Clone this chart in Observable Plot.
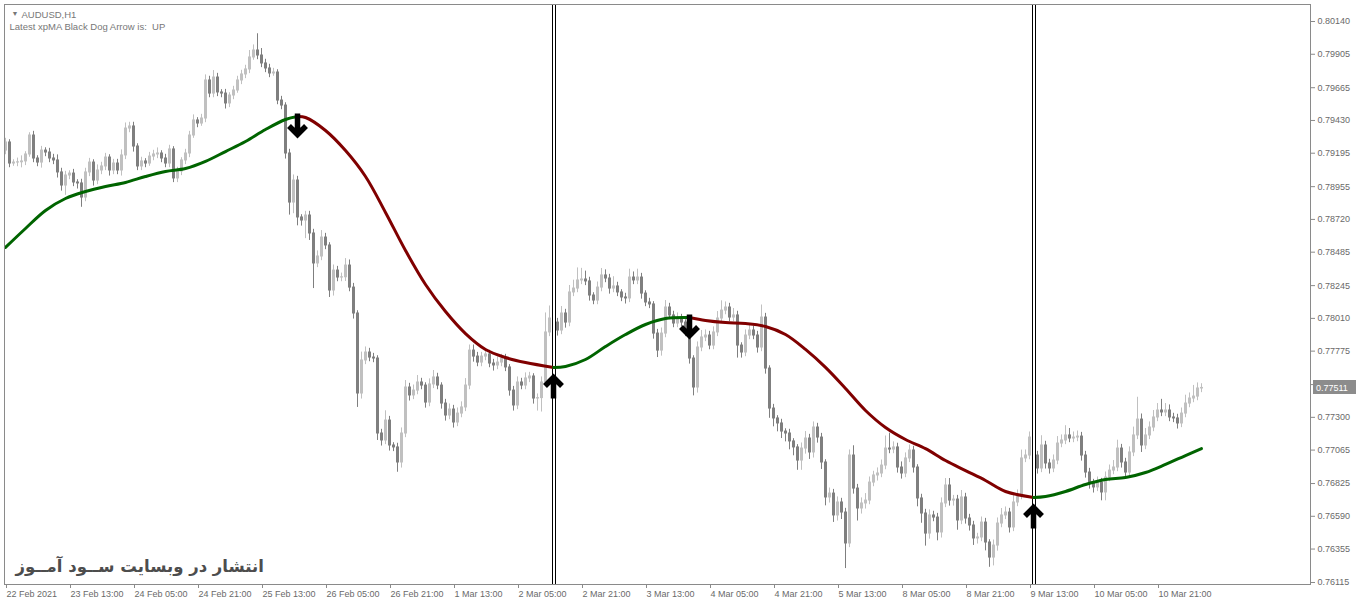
<!DOCTYPE html>
<html><head><meta charset="utf-8">
<script src="https://cdn.jsdelivr.net/npm/d3@7"></script>
<script src="https://cdn.jsdelivr.net/npm/@observablehq/plot@0.6"></script>
<style>
html,body{margin:0;padding:0;background:#fff;}
#chart{width:1360px;height:604px;overflow:hidden;}
</style></head><body><div id="chart"></div>
<script>
// ---------- DATA (AUDUSD H1) ----------
const firstOpen = 0.79214;
const closes = [
0.79272,0.79121,0.79128,0.79130,0.79136,0.79186,0.79322,0.79157,0.79128,0.79214,
0.79200,0.79157,0.79143,0.79057,0.78963,0.79035,0.79049,0.78985,0.78978,0.78877,
0.79057,0.79128,0.78999,0.79071,0.79100,0.79164,0.79071,0.79121,0.79071,0.79179,
0.79372,0.79387,0.79243,0.79100,0.79136,0.79121,0.79171,0.79186,0.79193,0.79157,
0.79121,0.79222,0.79014,0.79064,0.79143,0.79193,0.79322,0.79430,0.79408,0.79444,
0.79717,0.79623,0.79738,0.79631,0.79623,0.79552,0.79609,0.79645,0.79717,0.79760,
0.79796,0.79882,0.79932,0.79896,0.79839,0.79803,0.79767,0.79774,0.79573,0.79537,
0.79193,0.78841,0.78999,0.78734,0.78712,0.78748,0.78619,0.78404,0.78454,0.78590,
0.78533,0.78210,0.78353,0.78303,0.78305,0.78389,0.78231,0.78045,0.77471,0.77708,
0.77765,0.77729,0.77722,0.77184,0.77134,0.77277,0.77098,0.77084,0.76976,0.77184,
0.77514,0.77457,0.77492,0.77550,0.77528,0.77406,0.77536,0.77586,0.77528,0.77399,
0.77313,0.77356,0.77263,0.77327,0.77371,0.77528,0.77779,0.77736,0.77693,0.77736,
0.77751,0.77686,0.77672,0.77693,0.77722,0.77658,0.77492,0.77385,0.77550,0.77528,
0.77579,0.77593,0.77435,0.77438,0.77550,0.77909,0.78009,0.77980,0.77923,0.78045,
0.77980,0.78196,0.78224,0.78282,0.78289,0.78275,0.78174,0.78138,0.78231,0.78318,
0.78296,0.78224,0.78239,0.78196,0.78160,0.78153,0.78303,0.78282,0.78303,0.78188,
0.78124,0.78110,0.77901,0.77779,0.77901,0.78088,0.78031,0.77973,0.78009,0.77980,
0.77909,0.77722,0.77514,0.77801,0.77873,0.77887,0.77815,0.77909,0.78009,0.78066,
0.78088,0.78016,0.78031,0.77815,0.77765,0.77887,0.77923,0.77887,0.77801,0.78016,
0.77650,0.77363,0.77292,0.77256,0.77198,0.77184,0.77127,0.77084,0.76990,0.77076,
0.77148,0.77048,0.77227,0.77155,0.76976,0.76725,0.76753,0.76596,0.76689,0.76617,
0.76395,0.77026,0.76789,0.76646,0.76682,0.76703,0.76832,0.76883,0.76897,0.76954,
0.77076,0.77069,0.77084,0.76940,0.76897,0.77005,0.77062,0.76940,0.76718,0.76610,
0.76466,0.76596,0.76581,0.76474,0.76682,0.76811,0.76703,0.76710,0.76560,0.76725,
0.76574,0.76524,0.76431,0.76438,0.76545,0.76402,0.76294,0.76380,0.76538,0.76596,
0.76617,0.76510,0.76689,0.76739,0.77005,0.77026,0.77155,0.77026,0.76933,0.77098,
0.76969,0.76933,0.76990,0.77112,0.77134,0.77170,0.77148,0.77155,0.77162,0.77026,
0.76904,0.76825,0.76797,0.76832,0.76761,0.76868,0.76918,0.76940,0.77076,0.76976,
0.76904,0.77048,0.77170,0.77284,0.77098,0.77170,0.77227,0.77299,0.77349,0.77335,
0.77349,0.77299,0.77292,0.77256,0.77327,0.77399,0.77435,0.77449,0.77507,0.77511
];
// upper / lower wick length beyond the body, in pips
const upWickPips = [
3,2,2,3,4,2,2,3,2,3, 2,3,3,4,3,3,2,3,2,3, 3,3,2,4,3,3,2,3,3,4, 4,3,3,2,3,2,3,3,4,2,
3,3,2,3,2,3,3,4,2,3, 4,3,5,3,2,3,2,3,3,3, 3,5,4,12,5,3,3,3,2,3, 2,3,4,3,2,3,3,3,4,5,
3,2,4,3,3,5,4,3,2,6, 4,3,3,2,3,7,3,2,3,4, 5,3,4,5,3,2,4,5,3,2, 3,4,3,4,4,5,4,4,3,3,
4,3,3,4,3,3,2,3,4,3, 4,3,2,3,4,14,9,4,3,5, 3,5,6,9,8,6,3,2,4,5, 4,3,7,3,2,3,6,4,6,3,
2,3,2,3,4,5,3,3,4,3, 2,3,2,4,5,4,3,4,5,7, 4,3,5,3,2,4,4,3,3,9, 3,2,3,2,3,2,3,2,2,4,
5,3,4,3,3,2,4,3,4,3, 3,4,7,3,4,5,4,3,4,4, 9,11,4,3,4,4,4,3,2,3, 3,4,3,3,4,5,5,3,3,5,
3,3,3,3,4,3,2,4,4,5, 4,3,5,4,6,4,4,3,3,7, 3,3,4,5,4,7,5,4,4,3, 3,3,3,4,3,4,4,5,6,3,
3,4,6,16,4,5,4,5,5,8, 5,4,3,3,4,6,4,8,4,3
];
const loWickPips = [
3,3,2,3,4,3,2,3,3,4, 3,3,3,4,4,7,3,3,4,7, 3,3,4,3,3,3,4,3,3,4, 3,3,4,3,3,3,2,3,3,3,
3,3,3,3,3,3,3,2,3,2, 3,3,3,3,3,4,3,3,2,3, 3,3,2,3,3,3,3,2,3,3, 4,9,8,6,4,13,5,18,3,3,
3,5,4,3,3,3,3,4,10,4, 3,3,3,5,4,3,4,3,7,4, 3,4,3,3,3,4,3,3,3,4, 4,3,4,3,3,3,3,4,3,3,
3,3,4,3,3,3,4,4,3,3, 3,3,4,9,10,3,3,3,4,3, 4,3,3,3,3,3,4,3,3,3, 3,4,3,3,3,4,3,3,3,4,
3,3,4,5,4,3,3,3,3,3, 3,4,6,4,3,3,3,3,3,3, 3,3,3,9,4,3,3,3,4,3, 4,7,6,6,5,6,6,6,7,7,
4,5,4,4,5,6,4,5,4,5, 18,3,4,9,4,4,3,3,4,3, 3,3,3,4,4,3,3,4,6,7, 9,4,3,6,4,3,4,4,7,3,
4,4,5,4,3,6,7,6,4,3, 3,4,3,3,3,3,3,4,4,3, 4,4,3,3,3,3,3,3,3,4, 4,4,4,3,6,6,3,3,3,4,
4,3,3,3,5,3,3,3,3,3, 3,3,3,4,3,3,3,3,3,3
];
const xTickLabels = ["22 Feb 2021","23 Feb 13:00","24 Feb 05:00","24 Feb 21:00","25 Feb 13:00",
  "26 Feb 05:00","26 Feb 21:00","1 Mar 13:00","2 Mar 05:00","2 Mar 21:00","3 Mar 13:00",
  "4 Mar 05:00","4 Mar 21:00","5 Mar 13:00","8 Mar 05:00","8 Mar 21:00","9 Mar 13:00",
  "10 Mar 05:00","10 Mar 21:00"];
const barsPerLabel = 16;
const yTickValues = [0.80140,0.79905,0.79665,0.79430,0.79195,0.78955,0.78720,0.78485,0.78245,
  0.78010,0.77775,0.77535,0.77300,0.77065,0.76825,0.76590,0.76355,0.76115];
// xpMA line
const maBars = [0,5,10,15,20,25,30,35,40,45,50,55,60,65,70,73,75,80,85,90,95,100,105,110,115,120,125,130,
  137,140,145,150,155,160,165,171,175,180,185,190,195,200,205,210,215,220,225,230,235,240,245,250,
  257,260,265,270,275,280,285,290,295,299];
const maValues = [0.78519,0.78655,0.78784,0.78870,0.78920,0.78956,0.78985,0.79028,0.79064,0.79085,
  0.79136,0.79207,0.79279,0.79365,0.79437,0.79458,0.79451,0.79358,0.79214,0.79028,0.78770,0.78497,
  0.78253,0.78059,0.77901,0.77787,0.77729,0.77693,0.77658,0.77665,0.77715,0.77808,0.77894,0.77966,
  0.78009,0.78016,0.77995,0.77980,0.77973,0.77952,0.77894,0.77787,0.77658,0.77507,0.77349,0.77227,
  0.77141,0.77076,0.76990,0.76918,0.76847,0.76768,0.76725,0.76732,0.76768,0.76818,0.76854,0.76868,
  0.76904,0.76962,0.77026,0.77076];
const signalBars = [73,137,171,257];
const signalDirs = ["down","up","down","up"];
const verticalLineBars = [137,257];
const lastPrice = 0.77511;
const symbolTitle = "AUDUSD,H1";
const statusText = "Latest xpMA Black Dog Arrow is:  UP";
const watermark = "انتشار در وبسایت ســود آمــوز";

// ---------- BUILD ----------
const W = 1360, H = 604, ML = 4, MR = 50, MT = 4, MB = 20;
const yDomain = [0.7610065, 0.8026197];
const xDomain = [-0.25, 326.25];

const candles = closes.map((c, i) => {
  const o = i === 0 ? firstOpen : closes[i - 1];
  const top = Math.max(o, c), bot = Math.min(o, c);
  return {i, o, c, top, bot, h: top + upWickPips[i] / 10000, l: bot - loWickPips[i] / 10000, bull: c >= o};
});
const bull = candles.filter(d => d.bull), bear = candles.filter(d => !d.bull);
const BULL = "#c0c0c0", BEAR = "#7f7f7f";

const ma = maBars.map((b, k) => ({b, v: maValues[k]}));
const bounds = [0, ...signalBars, closes.length - 1];
const segs = [];
for (let s = 0; s < bounds.length - 1; s++) {
  const a = bounds[s], z = bounds[s + 1];
  segs.push({pts: ma.filter(d => d.b >= a && d.b <= z), up: s % 2 === 0});
}
const maAt = b => ma.find(d => d.b === b).v;
const signals = signalBars.map((b, k) => ({b, v: maAt(b), dir: signalDirs[k]}));

// arrow glyphs (thick shaft + chevron head), drawn as custom dot symbols anchored on the MA
const downArrow = {draw(ctx) {
  ctx.moveTo(0, -3); ctx.lineTo(0, 18);
  ctx.moveTo(-8.5, 9.5); ctx.lineTo(0, 18); ctx.lineTo(8.5, 9.5);
}};
const upArrow = {draw(ctx) {
  ctx.moveTo(0, 31); ctx.lineTo(0, 10);
  ctx.moveTo(-8.5, 18.5); ctx.lineTo(0, 10); ctx.lineTo(8.5, 18.5);
}};
const xTicks = xTickLabels.map((_, k) => k * barsPerLabel);

const marks = [
  Plot.ruleX(bull, {x: "i", y1: "h", y2: "l", stroke: BULL, strokeWidth: 1}),
  Plot.ruleX(bear, {x: "i", y1: "h", y2: "l", stroke: BEAR, strokeWidth: 1}),
  Plot.ruleX(bull, {x: "i", y1: "top", y2: "bot", stroke: BULL, strokeWidth: 3, insetTop: -0.5, insetBottom: -0.5}),
  Plot.ruleX(bear, {x: "i", y1: "top", y2: "bot", stroke: BEAR, strokeWidth: 3, insetTop: -0.5, insetBottom: -0.5}),
  Plot.ruleX(verticalLineBars, {stroke: "#000", strokeWidth: 4, dx: 0.5}),
  Plot.ruleX(verticalLineBars, {stroke: "#fff", strokeWidth: 2, dx: 0.5}),
  ...segs.map(s => Plot.line(s.pts, {x: "b", y: "v", stroke: s.up ? "#006400" : "#800000", strokeWidth: 3, curve: "catmull-rom"})),
  Plot.dot(signals.filter(d => d.dir === "down"), {x: "b", y: "v", symbol: downArrow, r: 5, fill: "none", stroke: "#000", strokeWidth: 5.5, strokeLinejoin: "miter", strokeLinecap: "butt"}),
  Plot.dot(signals.filter(d => d.dir === "up"), {x: "b", y: "v", symbol: upArrow, r: 5, fill: "none", stroke: "#000", strokeWidth: 5.5, strokeLinejoin: "miter", strokeLinecap: "butt"}),
  Plot.frame({stroke: "#8a8a8a"}),
  Plot.axisY({anchor: "right", ticks: yTickValues, tickFormat: d => d.toFixed(5), tickSize: 4, tickPadding: 3, fill: "#6a6a6a", stroke: "#8a8a8a"}),
  Plot.axisX({ticks: xTicks, tickFormat: d => xTickLabels[Math.round(d / barsPerLabel)], tickSize: 4, tickPadding: 2, textAnchor: "start", dx: 1, fill: "#6a6a6a", stroke: "#8a8a8a"}),
  Plot.text(["▼"], {frameAnchor: "top-left", dx: 7, dy: 7, fontSize: 7, fill: "#777"}),
  Plot.text([symbolTitle], {frameAnchor: "top-left", dx: 17, dy: 7, textAnchor: "start", fontSize: 9.5, fill: "#777"}),
  Plot.text([statusText], {frameAnchor: "top-left", dx: 5, dy: 19, textAnchor: "start", fontSize: 9.5, fill: "#777"}),
  Plot.text([watermark], {frameAnchor: "bottom-left", dx: 11, dy: -13, textAnchor: "start", fontSize: 16.5, fontWeight: "bold", fontFamily: "DejaVu Sans", fill: "#4d4d4d"})
];

const plot = Plot.plot({
  width: W, height: H, marginLeft: ML, marginRight: MR, marginTop: MT, marginBottom: MB,
  x: {domain: xDomain, axis: null},
  y: {domain: yDomain, axis: null},
  style: {fontFamily: "'Liberation Sans', Arial, sans-serif", fontSize: "9px", background: "#fff", color: "#6a6a6a"},
  marks
});

// current-price label on the price axis, placed through the y scale
const yy = plot.scale("y").apply(lastPrice);
const g = d3.select(plot).append("g").attr("font-family", "'Liberation Sans', Arial, sans-serif").attr("font-size", 9).attr("text-anchor", "start");
g.append("rect").attr("x", W - MR + 3).attr("y", Math.round(yy) - 7).attr("width", 43).attr("height", 14).attr("fill", "#8c8c8c");
g.append("text").attr("x", W - MR + 6).attr("y", yy).attr("dy", "0.35em").attr("fill", "#fff").text(lastPrice.toFixed(5));

document.getElementById("chart").appendChild(plot);
</script></body></html>
